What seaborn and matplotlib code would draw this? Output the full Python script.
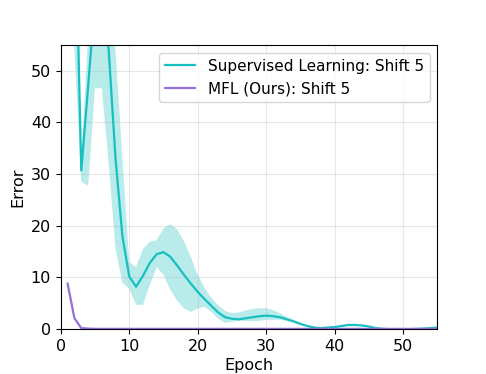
import matplotlib
matplotlib.use('Agg')
import matplotlib.pyplot as plt
import numpy as np
import pandas as pd
import seaborn as sns

# Epochs
epochs = list(range(1, 56))

# Supervised Learning: Shift 5 (mean, lower and upper band)
sup_mean = [120, 87, 30.7, 47, 64, 70, 54, 33, 18, 10.2,
            8.2, 10.3, 12.8, 14.5, 14.9, 14.0, 12.3, 10.5, 8.8, 7.2,
            5.8, 4.5, 3.2, 2.3, 2.0, 1.9, 2.1, 2.3, 2.5, 2.6,
            2.5, 2.3, 1.9, 1.5, 1.0, 0.6, 0.3, 0.2, 0.3, 0.4,
            0.6, 0.8, 0.8, 0.7, 0.5, 0.2, 0.05, 0.0, 0.0, 0.0,
            0.0, 0.05, 0.1, 0.2, 0.3]
sup_low = [90, 54, 28.5, 27.7, 46.6, 46.6, 32, 15.5, 9.0, 7.8,
           4.7, 4.7, 8.5, 12.0, 10.5, 7.6, 5.5, 4.0, 3.3, 4.0,
           4.3, 3.3, 2.0, 1.2, 1.4, 1.6, 1.6, 1.5, 1.6, 1.8,
           1.8, 1.8, 1.6, 1.3, 0.9, 0.5, 0.25, 0.1, 0.2, 0.3,
           0.5, 0.65, 0.7, 0.6, 0.4, 0.15, 0.0, 0.0, 0.0, 0.0,
           0.0, 0.03, 0.08, 0.15, 0.25]
sup_high = [150, 110, 33, 57, 80, 85, 70, 54, 33, 13,
            12, 15.5, 16.9, 17.2, 19.5, 20.3, 19.3, 17, 14.0, 10.5,
            8.0, 6.0, 4.6, 3.5, 3.1, 3.2, 3.6, 3.9, 4.05, 4.05,
            3.7, 3.1, 2.4, 1.8, 1.2, 0.7, 0.4, 0.3, 0.4, 0.5,
            0.7, 0.95, 0.95, 0.8, 0.6, 0.3, 0.1, 0.05, 0.0, 0.0,
            0.0, 0.07, 0.12, 0.25, 0.35]

# MFL (Ours): Shift 5
mfl_mean = [8.8, 2.1, 0.2, 0.1] + [0.05] * 51

sup_color = '#17c0c0'
mfl_color = '#9370db'

plt.rcParams['font.size'] = 11.5

df = pd.DataFrame({'Epoch': epochs, 'sup': sup_mean, 'mfl': mfl_mean})

fig = plt.figure(figsize=(4.86, 3.74), dpi=100)
ax = fig.add_axes([0.125, 0.12, 0.775, 0.76])

ax.fill_between(epochs, sup_low, sup_high, color=sup_color, alpha=0.3, linewidth=0)
sns.lineplot(data=df, x='Epoch', y='sup', color=sup_color, linewidth=1.6,
             label='Supervised Learning: Shift 5', ax=ax)
sns.lineplot(data=df, x='Epoch', y='mfl', color=mfl_color, linewidth=1.6,
             label='MFL (Ours): Shift 5', ax=ax)

ax.set_xlim(0, 55)
ax.set_ylim(0, 55)
ax.set_xticks([0, 10, 20, 30, 40, 50])
ax.set_yticks([0, 10, 20, 30, 40, 50])
ax.grid(True, alpha=0.3)
ax.set_xlabel('Epoch', labelpad=3)
ax.set_ylabel('Error')
ax.legend(loc='upper right', fontsize=11, handlelength=2.0)

fig.savefig('out.png', dpi=100)
